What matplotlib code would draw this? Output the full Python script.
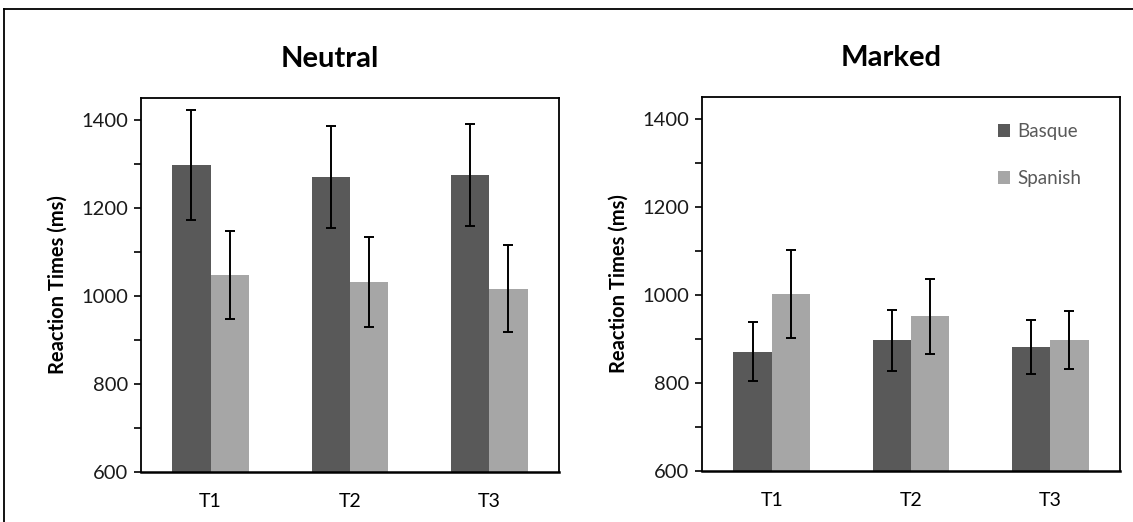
import numpy as np
from matplotlib import pyplot as plt
from matplotlib.lines import Line2D
from matplotlib.ticker import MultipleLocator

plt.rcParams['font.family'] = ['Lato', 'DejaVu Sans']

categories = ["T1", "T2", "T3"]
series = ["Basque", "Spanish"]

neutral_basque = [1297, 1270, 1275]
neutral_basque_err = [125, 116, 115]
neutral_spanish = [1047, 1032, 1017]
neutral_spanish_err = [100, 103, 98]

marked_basque = [871, 897, 882]
marked_basque_err = [67, 70, 62]
marked_spanish = [1002, 952, 898]
marked_spanish_err = [100, 85, 66]

colors = ["#595959", "#a6a6a6"]


def draw_panel(ax, title, basque, basque_err, spanish, spanish_err, legend=False):
    x = np.arange(len(categories))
    w = 0.275
    ax.bar(x - w / 2, basque, w, color=colors[0], label=series[0], zorder=2)
    ax.bar(x + w / 2, spanish, w, color=colors[1], label=series[1], zorder=2)
    ax.errorbar(x - w / 2, basque, yerr=basque_err, fmt="none", ecolor="black",
                elinewidth=1.4, capsize=3.5, capthick=1.4, zorder=3)
    ax.errorbar(x + w / 2, spanish, yerr=spanish_err, fmt="none", ecolor="black",
                elinewidth=1.4, capsize=3.5, capthick=1.4, zorder=3)
    ax.set_xlim(-0.5, 2.5)
    ax.set_ylim(600, 1450)
    ax.yaxis.set_major_locator(MultipleLocator(200))
    ax.yaxis.set_minor_locator(MultipleLocator(100))
    ax.set_xticks(x)
    ax.set_xticklabels(categories, fontsize=14)
    ax.tick_params(axis="x", length=0, pad=15)
    ax.tick_params(axis="y", which="both", length=5, width=1.2, labelsize=14.5,
                   pad=4, labelcolor="#1a1a1a")
    for s in ax.spines.values():
        s.set_linewidth(1.3)
    ax.spines["bottom"].set_linewidth(1.8)
    ax.set_ylabel("Reaction Times (ms)", fontsize=14.5, fontweight="bold", labelpad=10)
    ax.set_title(title, fontsize=21, fontweight="bold", pad=22, x=0.453)
    if legend:
        ax.legend(loc="upper left", bbox_to_anchor=(0.667, 0.975), frameon=False,
                  fontsize=13.5, labelcolor="#595959", handlelength=0.65,
                  handleheight=0.65, handletextpad=0.4, labelspacing=1.6)


fig = plt.figure(figsize=(11.33, 5.22), dpi=100)
ax1 = fig.add_axes([0.1244, 0.0958, 0.3689, 0.7165])
ax2 = fig.add_axes([0.6196, 0.0977, 0.3689, 0.7165])

draw_panel(ax1, "Neutral", neutral_basque, neutral_basque_err,
           neutral_spanish, neutral_spanish_err)
draw_panel(ax2, "Marked", marked_basque, marked_basque_err,
           marked_spanish, marked_spanish_err, legend=True)

# outer frame (cropped box around the figure)
fig.add_artist(Line2D([0.0035, 1.0], [1 - 9 / 522, 1 - 9 / 522], color="black", lw=1.3))
fig.add_artist(Line2D([0.0035, 0.0035], [0.0, 1 - 9 / 522], color="black", lw=1.3))

fig.savefig("out.png", dpi=100)
